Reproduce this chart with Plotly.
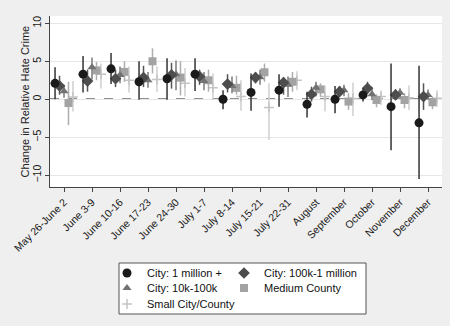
import numpy as np
import plotly.graph_objects as go

categories = ["May 26-June 2", "June 3-9", "June 10-16", "June 17-23", "June 24-30",
              "July 1-7", "July 8-14", "July 15-21", "July 22-31", "August",
              "September", "October", "November", "December"]

series_names = ["City: 1 million +", "City: 100k-1 million", "City: 10k-100k",
                "Medium County", "Small City/County"]

# point estimates
big_city = [2.1, 3.3, 4.0, 2.3, 2.7, 3.3, 0.0, 0.9, 1.2, -0.66, 0.0, 0.57, -0.97, -3.1]
mid_city = [1.75, 2.4, 2.7, 2.85, 3.2, 3.0, 2.0, 2.85, 2.2, 0.66, 1.0, 1.45, 0.57, 0.35]
small_city = [1.05, 4.2, 3.2, 2.5, 3.3, 2.4, 1.75, 2.9, 1.9, 1.5, 1.2, 0.66, 0.87, 0.57]
med_county = [-0.5, 3.8, 3.6, 5.0, 2.85, 2.5, 1.5, 3.55, 2.3, 1.3, -0.3, -0.1, -0.1, -0.4]
small_county = [0.3, 3.3, 2.5, 2.6, 2.1, 1.5, 0.35, -1.1, 2.5, 0.35, 0.1, 0.35, 0.2, 0.13]

# confidence interval upper bounds
big_city_hi = [4.2, 5.7, 6.1, 5.0, 5.4, 5.4, 1.2, 3.4, 3.3, 1.0, 1.75, 1.45, 4.7, 4.4]
mid_city_hi = [3.1, 3.9, 3.9, 4.4, 4.8, 3.9, 3.3, 3.6, 2.9, 1.65, 1.75, 2.3, 1.3, 2.1]
small_city_hi = [1.9, 5.5, 4.3, 3.6, 5.1, 3.6, 3.0, 3.9, 3.0, 2.3, 1.9, 1.6, 1.45, 1.3]
med_county_hi = [2.3, 4.9, 5.0, 6.7, 5.0, 3.9, 3.1, 4.7, 3.6, 2.1, 0.8, 0.65, 0.8, 0.35]
small_county_hi = [2.4, 4.7, 4.3, 4.3, 4.1, 3.4, 2.5, 2.1, 3.7, 1.8, 2.2, 1.2, 1.8, 1.2]

# confidence interval lower bounds
big_city_lo = [0.0, 0.9, 2.0, -0.05, -0.05, 1.1, -1.3, -1.5, -1.0, -2.4, -1.85, -0.3, -6.7, -10.5]
mid_city_lo = [0.6, 1.0, 1.6, 1.6, 1.4, 1.9, 0.9, 2.1, 0.6, -0.3, 0.35, 0.7, -0.1, -1.4]
small_city_lo = [0.2, 2.6, 2.1, 1.5, 1.2, 1.2, 0.8, 1.9, 0.3, 0.35, 0.4, -0.1, 0.1, -0.1]
med_county_lo = [-3.4, 2.5, 2.3, 3.4, 0.5, 1.0, 0.6, 2.3, 1.0, 0.35, -1.4, -1.05, -1.2, -1.3]
small_county_lo = [-1.6, 1.4, 0.9, 1.0, 0.35, -0.1, -1.5, -5.35, 1.2, -1.6, -2.2, -0.75, -1.4, -1.0]

y_ticks = [-10, -5, 0, 5, 10]

est = [big_city, mid_city, small_city, med_county, small_county]
his = [big_city_hi, mid_city_hi, small_city_hi, med_county_hi, small_county_hi]
los = [big_city_lo, mid_city_lo, small_city_lo, med_county_lo, small_county_lo]

offsets = [-0.32, -0.16, 0.0, 0.16, 0.32]
symbols = ["circle", "diamond", "triangle-up", "square", "cross-thin"]
mcolors = ["#1a1a1a", "#4d4d4d", "#727272", "#a3a3a3", "#c4c4c4"]
ecolors = ["#333333", "#555555", "#7a7a7a", "#adadad", "#cfcfcf"]
sizes = [9, 9, 8, 8, 7]

# one legend per entry, laid out as a 2-column key: (px of legend left, px of row centre)
legend_ids = ["legend", "legend2", "legend3", "legend4", "legend5"]
legend_pos = [(107, 273), (224, 273), (107, 288), (224, 288), (107, 304)]

fig = go.Figure()
base = np.arange(len(categories))
order = [4, 3, 2, 1, 0]
for i in order:
    e = np.array(est[i]); h = np.array(his[i]); l = np.array(los[i])
    marker = dict(symbol=symbols[i], color=mcolors[i], size=sizes[i])
    if symbols[i] == "cross-thin":
        marker["line"] = dict(color=mcolors[i], width=1.5)
    fig.add_trace(go.Scatter(
        x=base + offsets[i], y=e, mode="markers", name=series_names[i],
        marker=marker, legend=legend_ids[i],
        error_y=dict(type="data", symmetric=False, array=h - e, arrayminus=e - l,
                     color=ecolors[i], thickness=1.5, width=0),
    ))

fig.add_shape(type="line", xref="paper", x0=0, x1=1, yref="y", y0=0, y1=0,
              line=dict(color="#222222", width=1.5, dash="dash"), layer="between")

# legend frame
fig.add_shape(type="rect", xref="paper", yref="paper",
              x0=(119 - 50) / 392, x1=(366 - 50) / 392,
              y0=(187 - 314) / 171, y1=(187 - 263) / 171,
              line=dict(color="#555555", width=1), fillcolor="white", layer="below")

fig.add_annotation(text="Change in Relative Hate Crime", textangle=-90,
                   xref="paper", x=-0.064, xanchor="center",
                   yref="paper", y=0.5, yanchor="middle", showarrow=False,
                   font=dict(size=11, color="#222222"))

legends = {}
for lid, (px, py) in zip(legend_ids, legend_pos):
    legends[lid] = dict(orientation="h", xanchor="left", yanchor="middle",
                        x=(px - 50) / 392, y=(187 - py) / 171,
                        bgcolor="rgba(0,0,0,0)", borderwidth=0, itemwidth=30,
                        font=dict(size=11, color="#111111"), tracegroupgap=0)

fig.update_layout(
    width=450, height=326,
    margin=dict(l=50, r=8, t=16, b=139, autoexpand=False),
    paper_bgcolor="#efefef", plot_bgcolor="white",
    font=dict(family="Liberation Sans, Arial, sans-serif", size=10, color="#222222"),
    showlegend=True,
    xaxis=dict(range=[-0.5, 13.5], tickvals=list(base), ticktext=categories,
               tickangle=-45, showgrid=False, zeroline=False, automargin=False,
               showline=True, linecolor="#444444", linewidth=1,
               ticks="outside", ticklen=4, tickcolor="#444444",
               tickfont=dict(size=10.5, color="#1a1a1a")),
    yaxis=dict(range=[-11.55, 10.96], tickvals=y_ticks, tickangle=-90,
               showgrid=True, gridcolor="#e6e6e6", gridwidth=1, zeroline=False,
               automargin=False,
               showline=True, linecolor="#444444", linewidth=1,
               ticks="outside", ticklen=4, tickcolor="#444444",
               tickfont=dict(size=10.5, color="#1a1a1a")),
    **legends,
)

fig.write_html("out.html", config={"displayModeBar": False},
               post_script="document.body.style.margin='0';document.body.style.padding='0';")
